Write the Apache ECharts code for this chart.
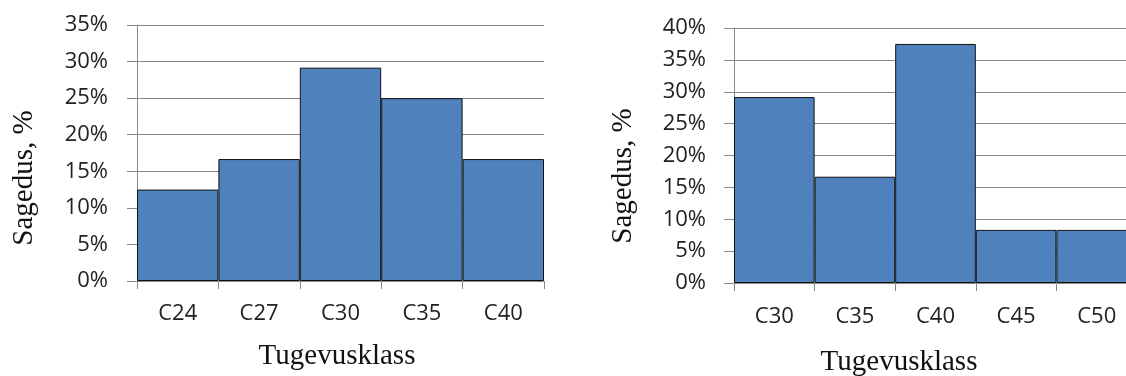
<!DOCTYPE html>
<html>
<head>
<meta charset="utf-8">
<style>
  html, body { margin: 0; padding: 0; background: #fff; }
  #chart { width: 1126px; height: 376px; }
</style>
<script src="https://cdn.jsdelivr.net/npm/echarts@6/dist/echarts.min.js"></script>
</head>
<body>
<div id="chart"></div>
<script>
// Strength-class frequency distributions (share of samples, %)
const classesLeft = ['C24', 'C27', 'C30', 'C35', 'C40'];
const freqLeft = [12.5, 16.67, 29.17, 25.0, 16.67];

const classesRight = ['C30', 'C35', 'C40', 'C45', 'C50'];
const freqRight = [29.17, 16.67, 37.5, 8.33, 8.33];

// Value axis ranges (percent) and step between ticks
const maxLeft = 35;
const maxRight = 40;
const tickStep = 5;

const xTitle = 'Tugevusklass';
const yTitle = 'Sagedus, %';

const labelFont = '"Open Sans", "Liberation Sans", sans-serif';
const titleFont = '"Liberation Serif", "Times New Roman", serif';
const gridGray = '#8a8a8a';
const barBlue = '#4f81bd';

function catAxis(gridIndex, data, margin) {
  return {
    type: 'category',
    gridIndex: gridIndex,
    data: data,
    boundaryGap: true,
    axisLine: { show: true, lineStyle: { color: gridGray, width: 1 } },
    axisTick: { show: true, length: 8, alignWithLabel: false, lineStyle: { color: gridGray } },
    axisLabel: { margin: margin, color: '#222', fontFamily: labelFont, fontSize: 22 },
    splitLine: { show: false }
  };
}

function valAxis(gridIndex, max, margin) {
  return {
    type: 'value',
    gridIndex: gridIndex,
    min: 0,
    max: max,
    interval: tickStep,
    axisLine: { show: true, lineStyle: { color: gridGray, width: 1 } },
    axisTick: { show: true, length: 10, lineStyle: { color: gridGray } },
    axisLabel: {
      margin: margin,
      color: '#222',
      fontFamily: labelFont,
      fontSize: 22,
      formatter: '{value}%'
    },
    splitLine: { show: true, lineStyle: { color: gridGray, width: 1 } }
  };
}

function bars(axisIndex, values) {
  return {
    type: 'bar',
    xAxisIndex: axisIndex,
    yAxisIndex: axisIndex,
    data: values,
    barCategoryGap: '0%',
    itemStyle: { color: barBlue, borderColor: '#111', borderWidth: 1 },
    emphasis: { disabled: true },
    animation: false
  };
}

function axisTitle(text, x, y, rotated) {
  return {
    type: 'text',
    x: x,
    y: y,
    rotation: rotated ? Math.PI / 2 : 0,
    style: {
      text: text,
      fill: '#111',
      font: '29px ' + titleFont,
      textAlign: 'center',
      textVerticalAlign: 'middle',
      align: 'center',
      verticalAlign: 'middle'
    }
  };
}

const chart = echarts.init(document.getElementById('chart'), null, { renderer: 'canvas' });

chart.setOption({
  backgroundColor: '#ffffff',
  animation: false,
  grid: [
    { left: 137, top: 25, width: 407, height: 256, containLabel: false, outerBoundsMode: 'none' },
    // the last class runs past the right edge of the canvas
    { left: 734, top: 28, width: 403, height: 255, containLabel: false, outerBoundsMode: 'none' }
  ],
  xAxis: [catAxis(0, classesLeft, 22), catAxis(1, classesRight, 23)],
  yAxis: [valAxis(0, maxLeft, 29), valAxis(1, maxRight, 28)],
  series: [bars(0, freqLeft), bars(1, freqRight)],
  graphic: [
    axisTitle(yTitle, 24, 178, true),
    axisTitle(xTitle, 337, 356, false),
    axisTitle(yTitle, 623, 176, true),
    axisTitle(xTitle, 899, 362, false)
  ]
});
</script>
</body>
</html>
